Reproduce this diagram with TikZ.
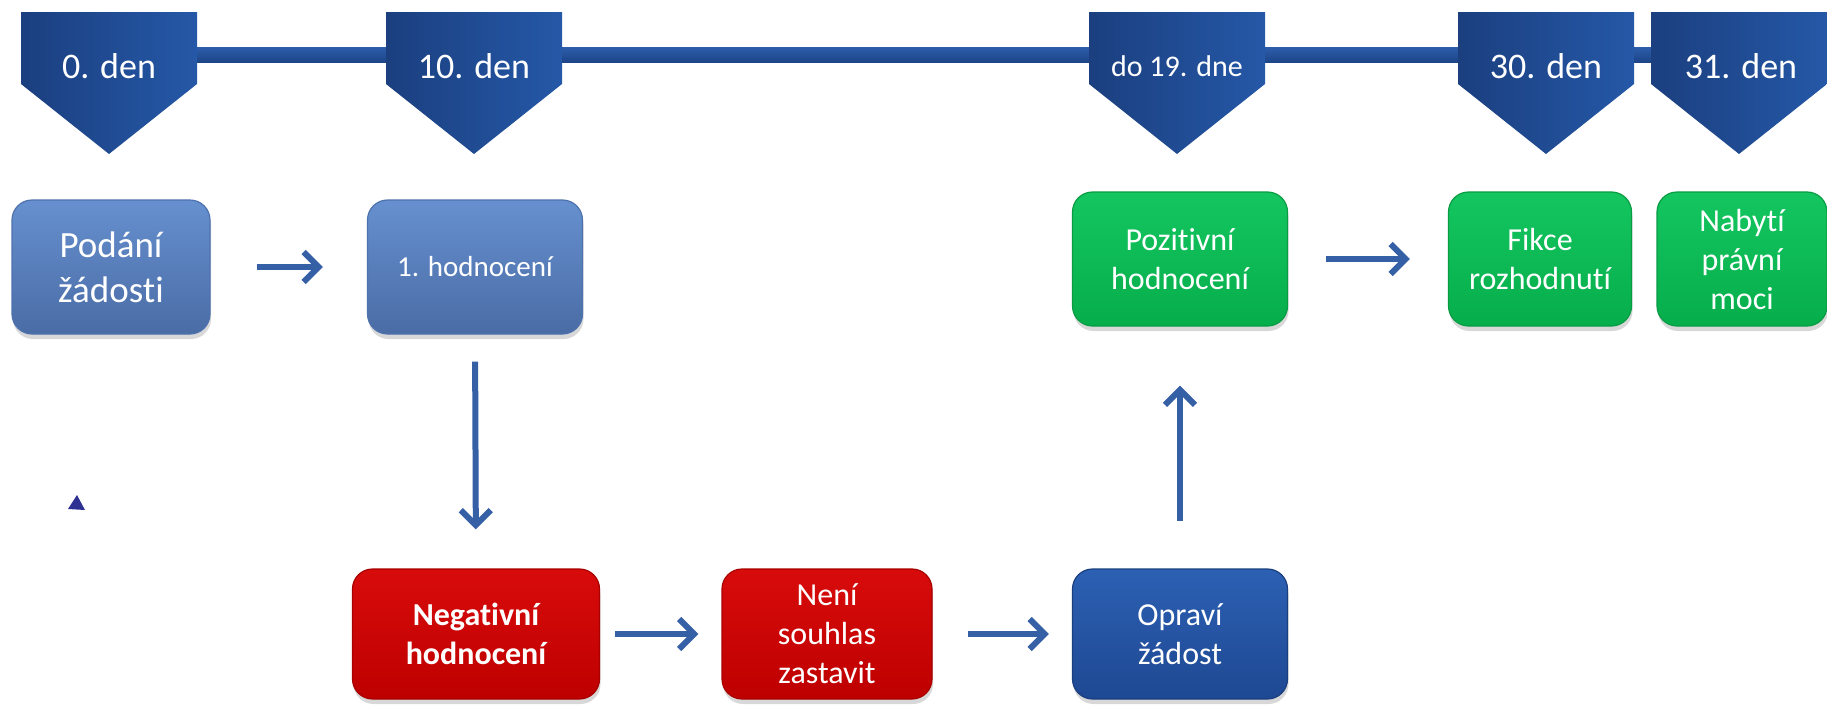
\documentclass[tikz,border=0pt]{standalone}
\usepackage{fontspec}
\setmainfont[Ligatures=NoCommon]{Carlito}
\usetikzlibrary{arrows.meta,shadows}
\definecolor{pentL}{HTML}{1B3F7F}
\definecolor{pentR}{HTML}{2558A7}
\definecolor{barTop}{HTML}{2D5DAB}
\definecolor{barBot}{HTML}{1D4588}
\definecolor{steelTop}{HTML}{6690CF}
\definecolor{steelBot}{HTML}{4A6CA5}
\definecolor{steelLine}{HTML}{4E72AD}
\definecolor{greenTop}{HTML}{14C660}
\definecolor{greenBot}{HTML}{06AE4B}
\definecolor{greenLine}{HTML}{0A9C44}
\definecolor{redTop}{HTML}{D80B0B}
\definecolor{redBot}{HTML}{BE0000}
\definecolor{redLine}{HTML}{A80000}
\definecolor{dblueTop}{HTML}{2C60B3}
\definecolor{dblueBot}{HTML}{1E4892}
\definecolor{dblueLine}{HTML}{1A3F80}
\definecolor{arrowcol}{HTML}{3560A5}
\definecolor{tricol}{HTML}{2E3192}
\begin{document}
\begin{tikzpicture}[x=1pt,y=-1pt,
  pent/.style={left color=pentL,right color=pentR,draw=none},
  pentlabel/.style={text=white,font=\fontsize{36}{43}\selectfont,inner sep=0pt},
  boxbase/.style={rounded corners=20pt,inner sep=0pt,text=white,align=center,
    font=\fontsize{32}{39}\selectfont,line width=1.2pt,
    drop shadow={opacity=0.3,shadow xshift=1pt,shadow yshift=-5pt}},
  steelbox/.style={boxbase,top color=steelTop,bottom color=steelBot,draw=steelLine},
  greenbox/.style={boxbase,top color=greenTop,bottom color=greenBot,draw=greenLine},
  redbox/.style={boxbase,top color=redTop,bottom color=redBot,draw=redLine},
  dbluebox/.style={boxbase,top color=dblueTop,bottom color=dblueBot,draw=dblueLine},
  flow/.style={draw=arrowcol,line width=6pt,-{Straight Barb[length=15pt,width=30pt,line width=6pt]}}
]
\useasboundingbox (0,0) rectangle (1827,704);
\fill[white] (0,0) rectangle (1827,704);
% timeline bar
\shade[top color=barTop,bottom color=barBot] (100,47) rectangle (1827,62);
% pentagons
\foreach \cx in {109,474,1177,1546,1739}{
  \path[pent] (\cx-88,12) -- (\cx+88,12) -- (\cx+88,84) -- (\cx,154) -- (\cx-88,84) -- cycle;
}
\node[pentlabel] (d0) at (109,66) {0. den};
\node[pentlabel] (d10) at (474,66) {10. den};
\node[pentlabel,font=\fontsize{30}{36}\selectfont] (d19) at (1177,66) {do 19. dne};
\node[pentlabel] (d30) at (1546,66) {30. den};
\node[pentlabel] (d31) at (1741,66) {31. den};
% boxes
\node[steelbox,minimum width=198pt,minimum height=134pt,font=\fontsize{37}{45}\selectfont] (podani) at (111,267) {Podání\\žádosti};
\node[steelbox,minimum width=215pt,minimum height=134pt,font=\fontsize{29}{35}\selectfont] (hod1) at (475,267) {1. hodnocení};
\node[greenbox,minimum width=215pt,minimum height=134pt] (poz) at (1180,259) {Pozitivní\\hodnocení};
\node[greenbox,minimum width=183pt,minimum height=134pt] (fikce) at (1540,259) {Fikce\\rozhodnutí};
\node[greenbox,minimum width=170pt,minimum height=134pt] (nabyti) at (1742,259) {Nabytí\\právní\\moci};
\node[redbox,minimum width=247pt,minimum height=130pt,font=\bfseries\fontsize{32}{39}\selectfont] (neg) at (476,634) {Negativní\\hodnocení};
\node[redbox,minimum width=210pt,minimum height=130pt] (neni) at (827,634) {Není\\souhlas\\zastavit};
\node[dbluebox,minimum width=215pt,minimum height=130pt] (oprav) at (1180,634) {Opraví\\žádost};
% connectors
\draw[flow,shorten <=46pt,shorten >=44pt] (podani.east) -- (hod1.west);
\draw[flow,shorten <=27pt,shorten >=39pt] (hod1.south) -- (neg.north);
\draw[flow,shorten <=15pt,shorten >=23pt] (neg.east) -- (neni.west);
\draw[flow,shorten <=35pt,shorten >=23pt] (neni.east) -- (oprav.west);
\draw[flow,shorten <=47pt,shorten >=59pt] (oprav.north) -- (poz.south);
\draw[flow,shorten <=38pt,shorten >=38pt] (poz.east) -- (fikce.west);
% small triangle
\fill[tricol] (77,495) -- (68,509) -- (85,510) -- cycle;
\end{tikzpicture}
\end{document}
